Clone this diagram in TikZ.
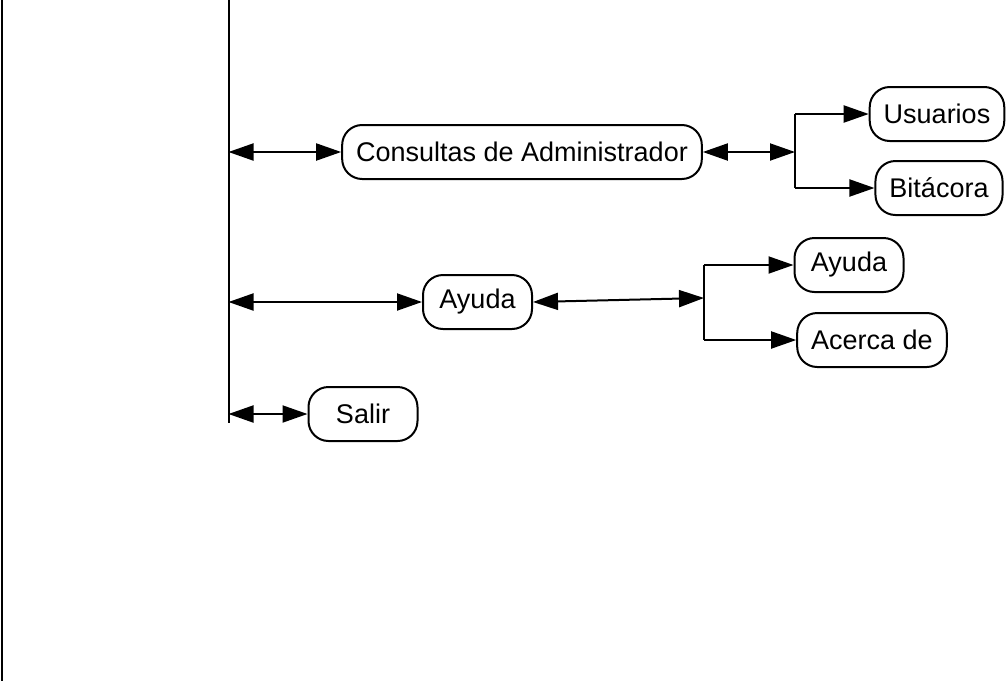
\documentclass[tikz,border=0pt]{standalone}
\usepackage{fontspec}
\setmainfont{Liberation Sans}
\usetikzlibrary{arrows.meta}
\tikzset{
  opcion/.style={draw, line width=1pt, rounded corners=10pt, minimum height=27pt,
    minimum width=54.5pt, inner xsep=7pt, font=\fontsize{13.5}{16}\selectfont},
  linea/.style={line width=1pt},
  flecha/.style={line width=1pt, -{Triangle[length=12.5pt,width=8.5pt]}},
  dobleflecha/.style={line width=1pt,
    {Triangle[length=12.5pt,width=8.5pt]}-{Triangle[length=12.5pt,width=8.5pt]}},
}
\begin{document}
\begin{tikzpicture}[x=0.5pt,y=-0.5pt]
    \useasboundingbox (0,0) rectangle (1008,681);
    \coordinate (B1) at (2,0);
    \coordinate (B2) at (2,681);
    \coordinate (M1) at (228.5,0);
    \coordinate (M2) at (228.5,423);
    \draw[linea] (B1) -- (B2);
    \draw[linea] (M1) -- (M2);
    \node[opcion] (cons) at (522,152) {Consultas de Administrador};
    \node[opcion] (usu) at (937,114) {Usuarios};
    \node[opcion] (bit) at (939,188) {Bitácora};
    \node[opcion] (ayuda) at (477.5,302) {Ayuda};
    \node[opcion] (ayuda2) at (849,265) {Ayuda};
    \node[opcion] (acerca) at (872,340) {Acerca de};
    \node[opcion] (salir) at (363,414) {Salir};
    \coordinate (A1) at (228.5,152);
    \coordinate (A2) at (228.5,302);
    \coordinate (A3) at (228.5,414);
    \coordinate (R1) at (795,152);
    \coordinate (R1a) at (795,114);
    \coordinate (R1b) at (795,188);
    \coordinate (R2) at (704,298);
    \coordinate (R2a) at (704,265);
    \coordinate (R2b) at (704,340);
    \draw[dobleflecha] (A1) -- (cons.west);
    \draw[dobleflecha] (cons.east) -- (R1);
    \draw[linea] (R1a) -- (R1b);
    \draw[flecha] (R1a) -- (usu.west);
    \draw[flecha] (R1b) -- (bit.west);
    \draw[dobleflecha] (A2) -- (ayuda.west);
    \draw[dobleflecha] (ayuda.east) -- (R2);
    \draw[linea] (R2a) -- (R2b);
    \draw[flecha] (R2a) -- (ayuda2.west);
    \draw[flecha] (R2b) -- (acerca.west);
    \draw[dobleflecha] (A3) -- (salir.west);
\end{tikzpicture}
\end{document}
